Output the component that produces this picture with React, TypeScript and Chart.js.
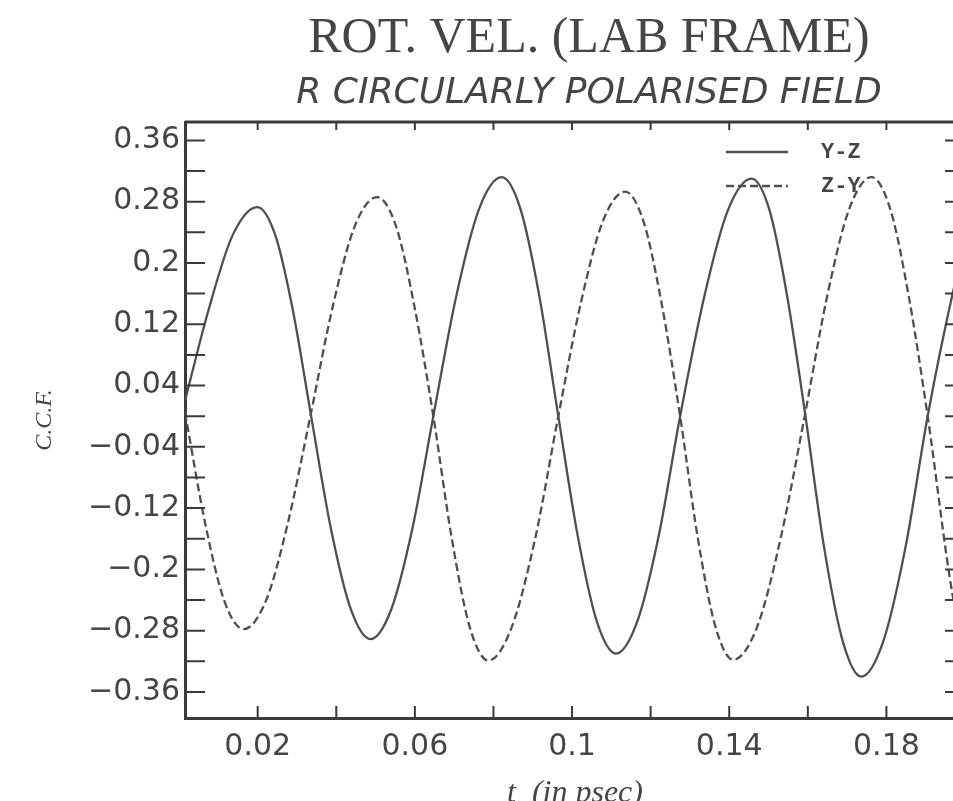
import React, { useEffect, useRef } from 'react';
import { Chart, registerables } from 'chart.js';

Chart.register(...registerables);

// ---------- text ----------
const TITLE = 'ROT. VEL. (LAB FRAME)';
const SUBTITLE = 'R CIRCULARLY POLARISED FIELD';
const X_TITLE = 't  (in psec)';
const Y_TITLE = 'C.C.F.';
const SERIES_NAMES = ['Y-Z', 'Z-Y'];

// ---------- data ----------
const T_YZ = [0.0015, 0.0074, 0.0136, 0.0199, 0.0245, 0.029, 0.0336, 0.0386, 0.0437, 0.0487, 0.054, 0.0594, 0.0647,
  0.0705, 0.0763, 0.0821, 0.0869, 0.0917, 0.0965, 0.1014, 0.1063, 0.1112, 0.1166, 0.1221, 0.1275, 0.1336, 0.1396,
  0.1457, 0.1503, 0.1548, 0.1594, 0.1641, 0.1689, 0.1736, 0.1792, 0.1849, 0.1905, 0.1969, 0.2];
const V_YZ = [0.02, 0.137, 0.236, 0.273, 0.236, 0.137, 0.0, -0.146, -0.252, -0.291, -0.252, -0.146, 0.0,
  0.156, 0.27, 0.312, 0.27, 0.156, 0.0, -0.155, -0.268, -0.31, -0.268, -0.155, 0.0, 0.155, 0.268,
  0.31, 0.268, 0.155, 0.0, -0.17, -0.294, -0.34, -0.294, -0.17, 0.0, 0.161, 0.225];

const T_ZY = [0.0015, 0.0066, 0.0115, 0.0164, 0.0221, 0.0277, 0.0334, 0.0391, 0.0447, 0.0504, 0.0552, 0.0599, 0.0647,
  0.0694, 0.074, 0.0787, 0.0846, 0.0906, 0.0965, 0.1022, 0.1078, 0.1135, 0.1182, 0.1228, 0.1275, 0.132, 0.1365,
  0.141, 0.1471, 0.1531, 0.1592, 0.1649, 0.1705, 0.1762, 0.181, 0.1857, 0.1905, 0.1969, 0.2];
const V_ZY = [0.005, -0.139, -0.241, -0.278, -0.241, -0.139, 0.0, 0.143, 0.248, 0.286, 0.248, 0.143, 0.0,
  -0.16, -0.276, -0.319, -0.276, -0.16, 0.0, 0.147, 0.254, 0.293, 0.254, 0.147, 0.0, -0.159, -0.275,
  -0.318, -0.275, -0.159, 0.0, 0.156, 0.27, 0.312, 0.27, 0.156, 0.0, -0.235, -0.3];

// ---------- axes ----------
const X_MIN = 0.0015;
const X_MAX = 0.2;
const Y_MIN = -0.394;
const Y_MAX = 0.384;
const X_TICKS = [0.02, 0.04, 0.06, 0.08, 0.1, 0.12, 0.14, 0.16, 0.18];
const X_LABELS = [0.02, 0.06, 0.1, 0.14, 0.18];
const Y_TICKS = [0.36, 0.32, 0.28, 0.24, 0.2, 0.16, 0.12, 0.08, 0.04, 0, -0.04, -0.08, -0.12, -0.16, -0.2, -0.24,
  -0.28, -0.32, -0.36];
const Y_LABELS = [0.36, 0.28, 0.2, 0.12, 0.04, -0.04, -0.12, -0.2, -0.28, -0.36];

// ---------- style ----------
const INK = '#3a3a3a';
const CURVE = '#4f4f4f';
const TEXT = '#454545';
const DASH = [8, 4];

const fmt = (v: number) => (v < 0 ? '\u2212' + String(-v) : String(v));
const isIn = (arr: number[], v: number) => arr.some((a) => Math.abs(a - v) < 1e-9);

const frameTicks = {
  id: 'frameTicks',
  afterDatasetsDraw(chart: any) {
    const { ctx, chartArea } = chart;
    const { left, right, top, bottom } = chartArea;
    const x = chart.scales.x;
    const y = chart.scales.y;
    ctx.save();
    ctx.strokeStyle = INK;
    ctx.lineCap = 'butt';
    ctx.lineWidth = 3;
    ctx.beginPath();
    ctx.moveTo(left, top);
    ctx.lineTo(right, top);
    ctx.lineTo(right, bottom);
    ctx.stroke();
    ctx.lineWidth = 2;
    ctx.beginPath();
    y.ticks.forEach((t: any) => {
      const py = y.getPixelForValue(t.value);
      ctx.moveTo(left, py);
      ctx.lineTo(left + 20, py);
      ctx.moveTo(right, py);
      ctx.lineTo(right - 20, py);
    });
    x.ticks.forEach((t: any) => {
      const px = x.getPixelForValue(t.value);
      ctx.moveTo(px, bottom);
      ctx.lineTo(px, bottom - 12);
      ctx.moveTo(px, top);
      ctx.lineTo(px, top + 8);
    });
    ctx.stroke();
    ctx.restore();
  },
};

const innerLegend = {
  id: 'innerLegend',
  afterDatasetsDraw(chart: any) {
    const { ctx, chartArea } = chart;
    const { right, top } = chartArea;
    ctx.save();
    chart.data.datasets.forEach((ds: any, i: number) => {
      const yy = top + 30 + 34 * i;
      ctx.strokeStyle = ds.borderColor;
      ctx.lineWidth = ds.borderWidth;
      ctx.setLineDash(ds.borderDash || []);
      ctx.beginPath();
      ctx.moveTo(right - 239, yy);
      ctx.lineTo(right - 177, yy);
      ctx.stroke();
      ctx.setLineDash([]);
      ctx.fillStyle = TEXT;
      ctx.font = 'bold 22px "Liberation Mono"';
      ctx.textAlign = 'left';
      ctx.textBaseline = 'middle';
      ctx.fillText(ds.label, right - 144, yy);
    });
    ctx.restore();
  },
};

export default function App() {
  const ref = useRef<HTMLCanvasElement>(null);

  useEffect(() => {
    if (!ref.current) return;
    const chart = new Chart(ref.current, {
      type: 'line',
      data: {
        datasets: [
          {
            label: SERIES_NAMES[0],
            data: T_YZ.map((t, i) => ({ x: t, y: V_YZ[i] })),
            borderColor: CURVE,
            borderWidth: 2.3,
            pointRadius: 0,
            fill: false,
            cubicInterpolationMode: 'monotone',
          },
          {
            label: SERIES_NAMES[1],
            data: T_ZY.map((t, i) => ({ x: t, y: V_ZY[i] })),
            borderColor: CURVE,
            borderWidth: 2.3,
            borderDash: DASH,
            pointRadius: 0,
            fill: false,
            cubicInterpolationMode: 'monotone',
          },
        ],
      },
      options: {
        animation: false,
        responsive: false,
        devicePixelRatio: 1,
        layout: { padding: 0 },
        plugins: {
          legend: { display: false },
          tooltip: { enabled: false },
          title: {
            display: true,
            text: TITLE,
            color: TEXT,
            font: { family: '"Liberation Serif"', size: 50, lineHeight: 1, weight: 'normal' },
            padding: { top: 14, bottom: 0 },
          },
          subtitle: {
            display: true,
            text: SUBTITLE,
            color: TEXT,
            font: { family: '"DejaVu Sans"', size: 36, lineHeight: 1, style: 'italic', weight: 'normal' },
            padding: { top: 12, bottom: 10 },
          },
        },
        scales: {
          x: {
            type: 'linear',
            position: 'bottom',
            min: X_MIN,
            max: X_MAX,
            afterBuildTicks: (s: any) => {
              s.ticks = X_TICKS.map((v) => ({ value: v }));
            },
            afterFit: (s: any) => {
              s.height = 112;
            },
            grid: { display: false, drawTicks: false },
            border: { display: true, color: INK, width: 3 },
            ticks: {
              autoSkip: false,
              maxRotation: 0,
              padding: 14,
              color: TEXT,
              font: { family: '"DejaVu Sans"', size: 30, lineHeight: 1 },
              callback: (v: any) => (isIn(X_LABELS, Number(v)) ? fmt(Number(v)) : ''),
            },
            title: {
              display: true,
              text: X_TITLE,
              color: TEXT,
              font: { family: '"Liberation Serif"', size: 32, style: 'italic', lineHeight: 1 },
              padding: { top: 0, bottom: 20 },
            },
          },
          y: {
            type: 'linear',
            position: 'left',
            min: Y_MIN,
            max: Y_MAX,
            afterBuildTicks: (s: any) => {
              s.ticks = Y_TICKS.map((v) => ({ value: v }));
            },
            afterFit: (s: any) => {
              s.width = 185;
            },
            grid: { display: false, drawTicks: false },
            border: { display: true, color: INK, width: 3 },
            ticks: {
              autoSkip: false,
              padding: 5,
              color: TEXT,
              font: { family: '"DejaVu Sans"', size: 30, lineHeight: 1 },
              callback: (v: any) => (isIn(Y_LABELS, Number(v)) ? fmt(Number(v)) : ''),
            },
            title: {
              display: true,
              text: Y_TITLE,
              color: TEXT,
              font: { family: '"Liberation Serif"', size: 24, style: 'italic', lineHeight: 1 },
              padding: { top: 33, bottom: 0 },
            },
          },
          yR: {
            type: 'linear',
            position: 'right',
            min: Y_MIN,
            max: Y_MAX,
            display: true,
            afterFit: (s: any) => {
              s.width = 213;
            },
            grid: { display: false, drawTicks: false },
            border: { display: false },
            ticks: { display: false },
          },
        },
      },
      plugins: [frameTicks, innerLegend],
    } as any);
    return () => chart.destroy();
  }, []);

  return (
    <div
      style={{
        position: 'fixed',
        left: 0,
        top: 0,
        width: 953,
        height: 801,
        overflow: 'hidden',
        background: '#fff',
      }}
    >
      <canvas ref={ref} width={1178} height={830} style={{ display: 'block', width: 1178, height: 830 }} />
    </div>
  );
}
